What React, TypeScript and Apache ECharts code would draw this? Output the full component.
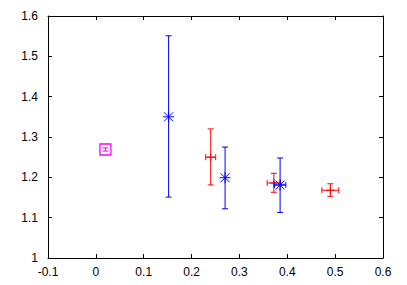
import React, { useEffect, useRef } from "react";
import * as echarts from "echarts";

const magX = [0.02];
const magY = [1.269];
const magYErr = [0.004];

const blueX = [0.152, 0.27, 0.385];
const blueY = [1.35, 1.199, 1.181];
const blueLow = [1.151, 1.122, 1.113];
const blueHigh = [1.551, 1.275, 1.248];
const blueXErr = [0, 0, 0.012];

const redX = [0.24, 0.372, 0.49];
const redY = [1.25, 1.186, 1.168];
const redLow = [1.181, 1.163, 1.153];
const redHigh = [1.32, 1.21, 1.184];
const redXErr = [0.0104, 0.014, 0.0177];

const xTicks = { min: -0.1, max: 0.6, interval: 0.1 };
const yTicks = { min: 1, max: 1.6, interval: 0.1 };

type Kind = "star" | "plus" | "square";

function makeRender(color: string, kind: Kind) {
  return (params: any, api: any) => {
    const x = api.value(0);
    const y = api.value(1);
    const lo = api.value(2);
    const hi = api.value(3);
    const xe = api.value(4);
    const c = api.coord([x, y]);
    const top = api.coord([x, hi]);
    const bot = api.coord([x, lo]);
    const left = api.coord([x - xe, y]);
    const right = api.coord([x + xe, y]);
    const cap = 3;
    const st = { stroke: color, lineWidth: 1 };
    const children: any[] = [];
    const line = (x1: number, y1: number, x2: number, y2: number) =>
      children.push({ type: "line", shape: { x1, y1, x2, y2 }, style: st });
    line(c[0], top[1], c[0], bot[1]);
    line(c[0] - cap, top[1], c[0] + cap, top[1]);
    line(c[0] - cap, bot[1], c[0] + cap, bot[1]);
    if (xe > 0) {
      line(left[0], c[1], right[0], c[1]);
      line(left[0], c[1] - cap, left[0], c[1] + cap);
      line(right[0], c[1] - cap, right[0], c[1] + cap);
    }
    if (kind === "star") {
      const r = 5.5;
      const d = 4.5;
      line(c[0] - r, c[1], c[0] + r, c[1]);
      line(c[0], c[1] - r, c[0], c[1] + r);
      line(c[0] - d, c[1] - d, c[0] + d, c[1] + d);
      line(c[0] - d, c[1] + d, c[0] + d, c[1] - d);
    } else if (kind === "plus") {
      const r = 4;
      line(c[0] - r, c[1], c[0] + r, c[1]);
      line(c[0], c[1] - r, c[0], c[1] + r);
    } else {
      const s = 5.5;
      children.push({
        type: "rect",
        shape: { x: c[0] - s, y: c[1] - s, width: 2 * s, height: 2 * s },
        style: { stroke: color, lineWidth: 1.3, fill: "none" },
      });
    }
    return { type: "group", children };
  };
}

export default function App() {
  const ref = useRef<HTMLDivElement>(null);
  useEffect(() => {
    if (!ref.current) return;
    const chart = echarts.init(ref.current, null, { renderer: "svg" });
    const labelStyle = {
      color: "#000",
      fontSize: 12,
      fontFamily: "Liberation Sans, Arial, sans-serif",
    };
    const common = {
      type: "value" as const,
      splitLine: { show: false },
      axisLine: { show: true, onZero: false, lineStyle: { color: "#000", width: 1 } },
      axisTick: { show: true, inside: true, length: 4, lineStyle: { color: "#000" } },
    };
    const mag = magX.map((x, i) => [x, magY[i], magY[i] - magYErr[i], magY[i] + magYErr[i], 0]);
    const blue = blueX.map((x, i) => [x, blueY[i], blueLow[i], blueHigh[i], blueXErr[i]]);
    const red = redX.map((x, i) => [x, redY[i], redLow[i], redHigh[i], redXErr[i]]);
    chart.setOption({
      animation: false,
      backgroundColor: "#fff",
      grid: { left: 48, right: 24, top: 16, bottom: 27, containLabel: false },
      xAxis: [
        { ...common, ...xTicks, position: "bottom", axisLabel: { ...labelStyle, margin: 8 } },
        { ...common, ...xTicks, position: "top", axisLabel: { show: false } },
      ],
      yAxis: [
        { ...common, ...yTicks, position: "left", axisLabel: { ...labelStyle, margin: 10 } },
        { ...common, ...yTicks, position: "right", axisLabel: { show: false } },
      ],
      series: [
        {
          type: "custom",
          renderItem: makeRender("#ff00ff", "square"),
          data: mag,
          encode: { x: 0, y: 1 },
        },
        {
          type: "custom",
          renderItem: makeRender("#ff0000", "plus"),
          data: red,
          encode: { x: 0, y: 1 },
        },
        {
          type: "custom",
          renderItem: makeRender("#0000ff", "star"),
          data: blue,
          encode: { x: 0, y: 1 },
        },
      ],
    });
    return () => chart.dispose();
  }, []);
  return <div ref={ref} style={{ width: 407, height: 285, position: "absolute", left: 0, top: 0 }} />;
}
